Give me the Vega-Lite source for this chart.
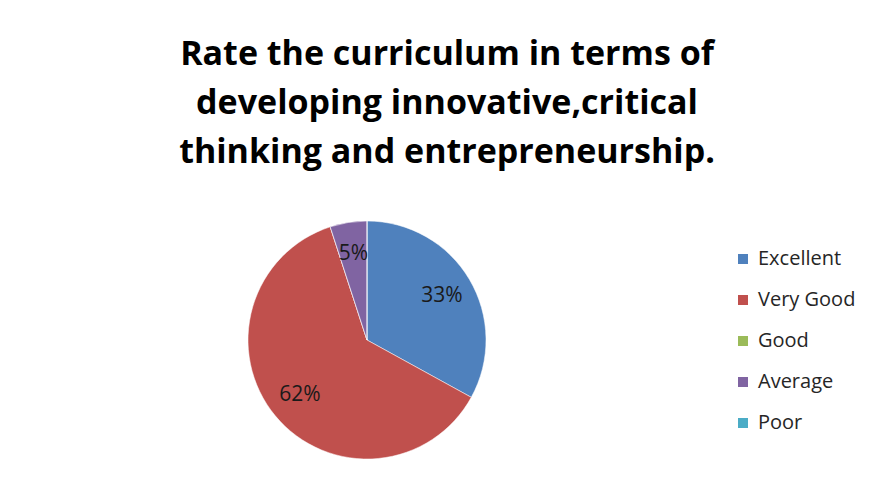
{
  "$schema": "https://vega.github.io/schema/vega-lite/v6.json",
  "width": 734,
  "height": 304,
  "autosize": {"type": "none"},
  "padding": {"left": 0, "top": 188, "right": 139, "bottom": 0},
  "background": "white",
  "config": {"view": {"stroke": null}},
  "title": {
    "text": ["Rate the curriculum in terms of", "developing innovative,critical", "thinking and entrepreneurship."],
    "font": "Open Sans",
    "fontWeight": "bold",
    "fontSize": 34,
    "lineHeight": 49,
    "color": "black",
    "anchor": "middle",
    "dx": 80,
    "offset": 18
  },
  "data": {
    "values": [
      {"rating": "Excellent", "pct": 33, "idx": 1, "label": "33%"},
      {"rating": "Very Good", "pct": 62, "idx": 2, "label": "62%"},
      {"rating": "Good", "pct": 0, "idx": 3, "label": "0%"},
      {"rating": "Average", "pct": 5, "idx": 4, "label": "5%"},
      {"rating": "Poor", "pct": 0, "idx": 5, "label": "0%"}
    ]
  },
  "encoding": {
    "theta": {"field": "pct", "type": "quantitative", "stack": true},
    "order": {"field": "idx", "type": "quantitative"}
  },
  "layer": [
    {
      "mark": {"type": "arc", "outerRadius": 119, "stroke": "white", "strokeWidth": 0.5},
      "encoding": {
        "color": {
          "field": "rating",
          "type": "nominal",
          "scale": {
            "domain": ["Excellent", "Very Good", "Good", "Average", "Poor"],
            "range": ["#4F81BD", "#C0504D", "#9BBB59", "#8064A2", "#4BACC6"]
          },
          "legend": {
            "orient": "none",
            "legendX": 733,
            "legendY": 61,
            "title": null,
            "symbolType": "square",
            "symbolSize": 100,
            "symbolStrokeWidth": 0,
            "labelFont": "Open Sans",
            "labelFontSize": 20,
            "labelColor": "#262626",
            "labelOffset": 5,
            "rowPadding": 21,
            "padding": 0
          }
        }
      }
    },
    {
      "transform": [{"filter": "datum.pct > 0"}],
      "mark": {"type": "text", "radius": 87, "font": "Open Sans", "fontSize": 21, "color": "#1a1a1a"},
      "encoding": {
        "text": {"field": "label", "type": "nominal"}
      }
    }
  ]
}
